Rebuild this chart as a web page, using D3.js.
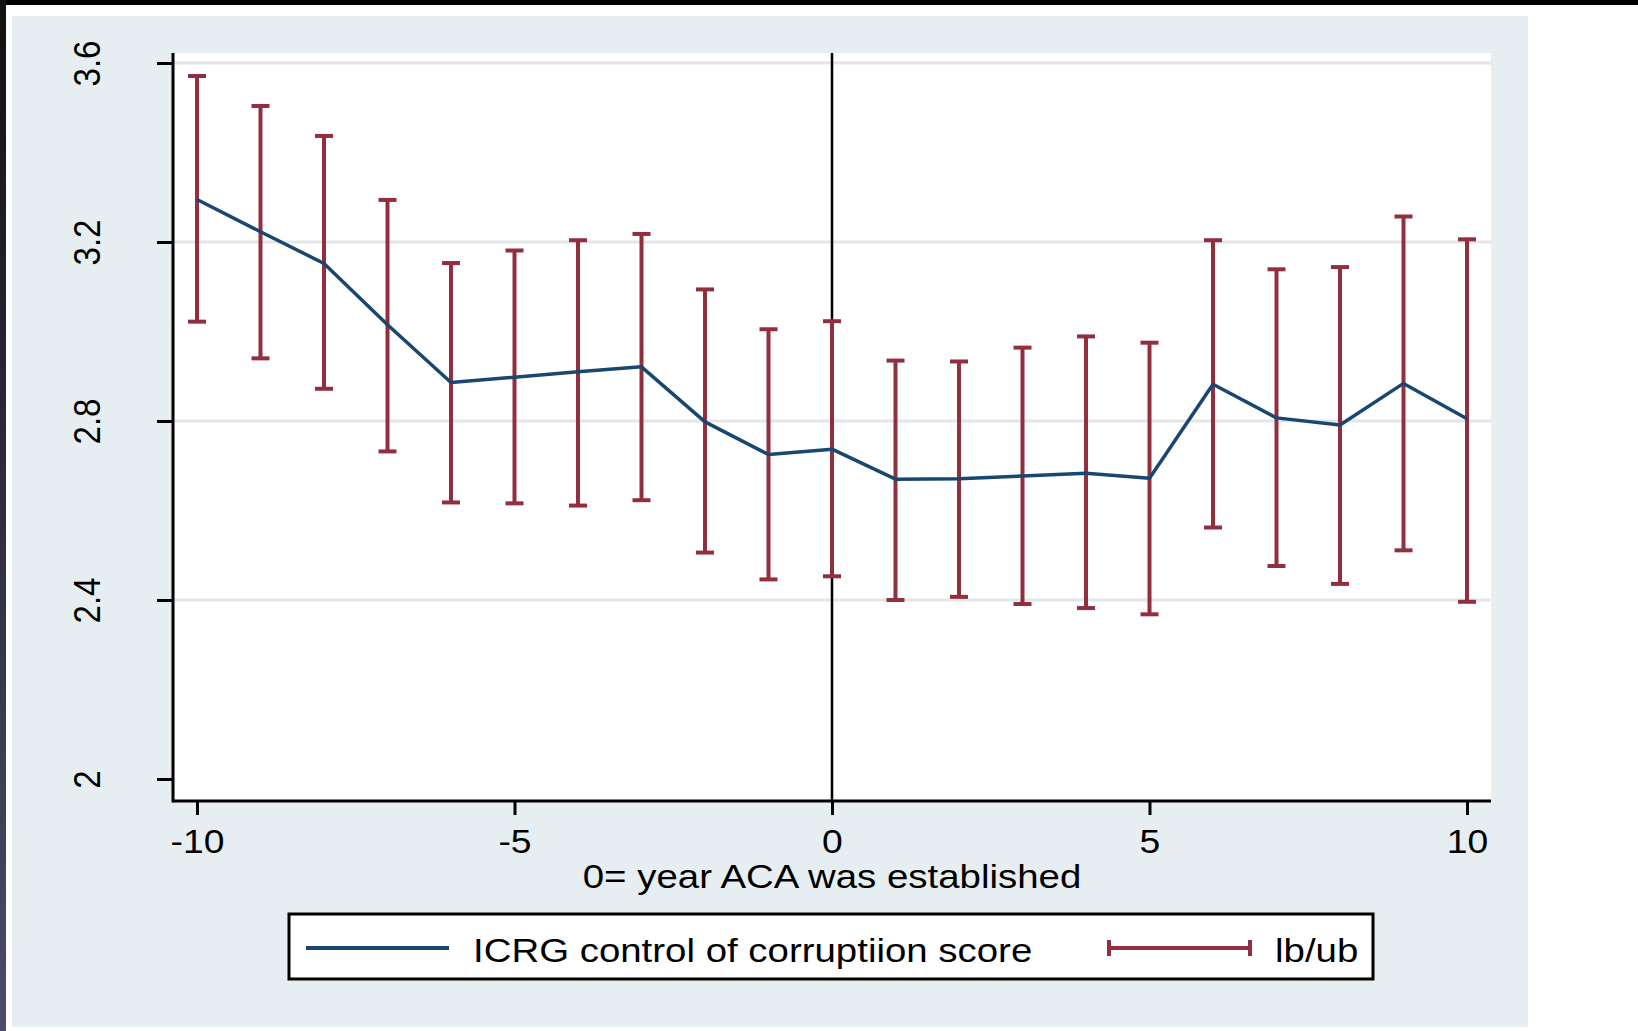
<!DOCTYPE html>
<html>
<head>
<meta charset="utf-8">
<script src="https://cdn.jsdelivr.net/npm/d3@7"></script>
<style>
  html, body { margin: 0; padding: 0; background: #fff; }
  svg { display: block; }
  text { font-family: "Liberation Sans", Arial, sans-serif; fill: #000; }
</style>
</head>
<body>
<div id="chart"></div>
<script>
// years relative to ACA establishment
var years = [-10, -9, -8, -7, -6, -5, -4, -3, -2, -1, 0, 1, 2, 3, 4, 5, 6, 7, 8, 9, 10];
// ICRG control of corruption score
var estimate = [3.295, 3.223, 3.152, 3.015, 2.886, 2.898, 2.910, 2.921, 2.798, 2.725, 2.737,
                2.670, 2.671, 2.677, 2.683, 2.672, 2.882, 2.807, 2.791, 2.884, 2.805];
var lower = [3.022, 2.940, 2.872, 2.732, 2.618, 2.616, 2.611, 2.623, 2.506, 2.446, 2.453,
             2.400, 2.407, 2.391, 2.382, 2.368, 2.562, 2.476, 2.436, 2.511, 2.396];
var upper = [3.571, 3.504, 3.437, 3.294, 3.153, 3.181, 3.204, 3.218, 3.094, 3.005, 3.023,
             2.935, 2.933, 2.964, 2.989, 2.975, 3.204, 3.139, 3.144, 3.257, 3.206];
var yTicks = [2, 2.4, 2.8, 3.2, 3.6];
var xTicks = [-10, -5, 0, 5, 10];
var xTitle = "0= year ACA was established";
var legendLabels = ["ICRG control of corruptiion score", "lb/ub"];

function init() {
    var W = 1638, H = 1031;
    var sx = 1.13; // the original picture is stretched sideways
    var lineColor = "#1a476f", barColor = "#922f3e", bg = "#e6eef1";

    // plot region
    var left = 173, right = 1491, top = 53, bottom = 801;

    var x = d3.scaleLinear().domain([-10, 10]).range([197, 1467]);
    var y = d3.scaleLinear().domain([2, 3.6]).range([779, 63]);

    var svg = d3.select("#chart").append("svg")
        .attr("width", W)
        .attr("height", H);

    // frame around the screenshot
    var defs = svg.append("defs");
    var grad = defs.append("linearGradient").attr("id", "edge")
        .attr("x1", 0).attr("y1", 0).attr("x2", 0).attr("y2", 1);
    grad.append("stop").attr("offset", "0%").attr("stop-color", "#111");
    grad.append("stop").attr("offset", "100%").attr("stop-color", "#4c4c6c");

    svg.append("rect").attr("x", 12).attr("y", 16)
        .attr("width", 1528 - 12).attr("height", 1027 - 16)
        .attr("fill", bg);
    svg.append("rect").attr("x", 0).attr("y", 0)
        .attr("width", W).attr("height", 5).attr("fill", "#000");
    svg.append("rect").attr("x", 0).attr("y", 0)
        .attr("width", 6).attr("height", H).attr("fill", "url(#edge)");

    // plot background
    svg.append("rect")
        .attr("x", left).attr("y", top)
        .attr("width", right - left).attr("height", bottom - top)
        .attr("fill", "#fff");

    // gridlines
    svg.append("g").selectAll("line")
        .data(yTicks.filter(d => d > 2))
        .enter()
        .append("line")
        .attr("x1", left).attr("x2", right)
        .attr("y1", d => y(d)).attr("y2", d => y(d))
        .attr("stroke", "#e1e7e9")
        .attr("stroke-width", 3);

    // Y axis
    var yAxis = svg.append("g")
        .attr("transform", `translate(${left},0)`)
        .call(d3.axisLeft(y).tickValues(yTicks).tickFormat(d3.format("")).tickSize(16).tickSizeOuter(0));
    yAxis.select(".domain").remove();
    yAxis.selectAll(".tick line").attr("stroke", "#000").attr("stroke-width", 3);
    yAxis.selectAll(".tick text")
        .attr("x", 0).attr("y", 0).attr("dy", 0)
        .attr("text-anchor", "middle")
        .attr("font-size", 33)
        .attr("transform", `translate(-73,0) scale(${sx},1) rotate(-90)`);

    // X axis
    var xAxis = svg.append("g")
        .attr("transform", `translate(0,${bottom})`)
        .call(d3.axisBottom(x).tickValues(xTicks).tickFormat(d3.format("")).tickSize(14).tickSizeOuter(0));
    xAxis.select(".domain").remove();
    xAxis.selectAll(".tick line").attr("stroke", "#000").attr("stroke-width", 3);
    xAxis.selectAll(".tick text")
        .attr("y", 52).attr("dy", 0)
        .attr("font-size", 33)
        .attr("transform", `scale(${sx},1)`);
    xAxis.selectAll(".tick text").text(d => d < 0 ? "-" + Math.abs(d) : d);

    // axis lines
    svg.append("line")
        .attr("x1", left).attr("x2", left).attr("y1", top).attr("y2", bottom + 1.5)
        .attr("stroke", "#000").attr("stroke-width", 3);
    svg.append("line")
        .attr("x1", left).attr("x2", right).attr("y1", bottom).attr("y2", bottom)
        .attr("stroke", "#000").attr("stroke-width", 3);

    // reference line at year 0
    svg.append("line")
        .attr("x1", x(0)).attr("x2", x(0)).attr("y1", top).attr("y2", bottom)
        .attr("stroke", "#000").attr("stroke-width", 2.5);

    // error bars
    var capW = 9;
    var bars = svg.append("g")
        .attr("stroke", barColor)
        .attr("stroke-width", 4)
        .selectAll("g")
        .data(years)
        .enter()
        .append("g");
    bars.append("line")
        .attr("x1", d => x(d)).attr("x2", d => x(d))
        .attr("y1", (d, i) => y(lower[i])).attr("y2", (d, i) => y(upper[i]));
    bars.append("line")
        .attr("x1", d => x(d) - capW).attr("x2", d => x(d) + capW)
        .attr("y1", (d, i) => y(lower[i])).attr("y2", (d, i) => y(lower[i]));
    bars.append("line")
        .attr("x1", d => x(d) - capW).attr("x2", d => x(d) + capW)
        .attr("y1", (d, i) => y(upper[i])).attr("y2", (d, i) => y(upper[i]));

    // estimate line
    var line = d3.line()
        .x((d, i) => x(years[i]))
        .y(d => y(d));
    svg.append("path")
        .datum(estimate)
        .attr("d", line)
        .attr("fill", "none")
        .attr("stroke", lineColor)
        .attr("stroke-width", 3.5)
        .attr("stroke-linejoin", "round");

    // x axis title
    svg.append("text")
        .attr("transform", `translate(${x(0)},888) scale(${sx},1)`)
        .attr("text-anchor", "middle")
        .attr("font-size", 34)
        .text(xTitle);

    // legend
    var lg = svg.append("g");
    lg.append("rect")
        .attr("x", 289).attr("y", 914)
        .attr("width", 1373 - 289).attr("height", 979 - 914)
        .attr("fill", "#fff")
        .attr("stroke", "#000")
        .attr("stroke-width", 3);
    lg.append("line")
        .attr("x1", 306).attr("x2", 449).attr("y1", 948).attr("y2", 948)
        .attr("stroke", lineColor).attr("stroke-width", 4);
    lg.append("text")
        .attr("transform", `translate(473,962) scale(${sx},1)`)
        .attr("font-size", 34)
        .text(legendLabels[0]);
    var lb = lg.append("g").attr("stroke", barColor).attr("stroke-width", 4);
    lb.append("line").attr("x1", 1109).attr("x2", 1250).attr("y1", 948).attr("y2", 948);
    lb.append("line").attr("x1", 1109).attr("x2", 1109).attr("y1", 940).attr("y2", 956);
    lb.append("line").attr("x1", 1250).attr("x2", 1250).attr("y1", 940).attr("y2", 956);
    lg.append("text")
        .attr("transform", `translate(1275,962) scale(${sx},1)`)
        .attr("font-size", 34)
        .text(legendLabels[1]);
}

init();
</script>
</body>
</html>
